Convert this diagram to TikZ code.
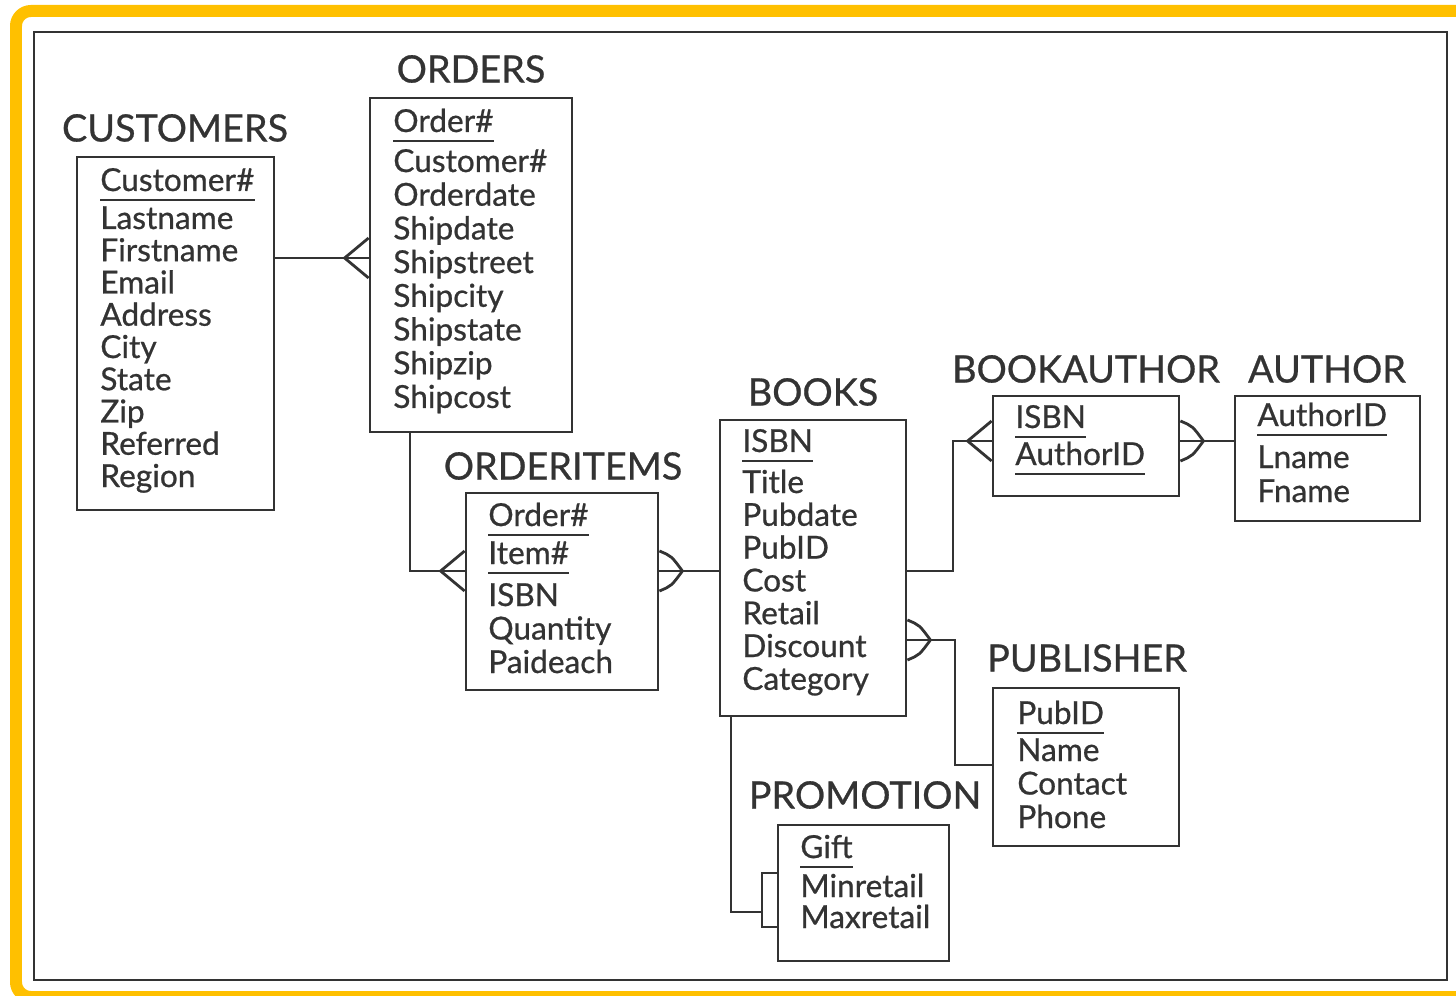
\documentclass[tikz,border=0pt]{standalone}
\usepackage{fontspec}
\setmainfont{Lato}
\newfontfamily\erfont{Lato}[FakeBold=0.7]
\usetikzlibrary{fit}
\definecolor{ink}{HTML}{333333}
\definecolor{gold}{HTML}{FFC000}

\tikzset{
  tbl/.style={draw=ink, line width=1.6pt, inner sep=0pt},
  attr/.style={inner sep=0pt, anchor=base west, text=ink, font=\erfont\fontsize{18}{20}\selectfont},
  ttl/.style={inner sep=0pt, text=ink, font=\erfont\fontsize{21.5}{24}\selectfont},
  link/.style={draw=ink, line width=1.6pt},
  uline/.style={draw=ink, line width=1.3pt},
  crow/.pic={\draw[link] (0,-20) -- (-24,0) -- (0,20);},
  crowc/.pic={\draw[link] (0,-20) .. controls (-12,-15) .. (-23,0) .. controls (-12,15) .. (0,20);}
}

\begin{document}
\begin{tikzpicture}[x=0.02cm, y=-0.02cm]
  \useasboundingbox (0,0) rectangle (1456,996);
  \clip (0,0) rectangle (1456,996);
  % outer frame
  \draw[gold, line width=0.24cm, rounded corners=0.3cm] (16,11) rectangle (1475,997);
  \draw[ink, line width=1.6pt] (34,32) rectangle (1447,980);

  % CUSTOMERS
  \node[ttl] (t-customers) at (175,128) {CUSTOMERS};
  \node[tbl, fit={(77,157) (274,510)}] (customers) {};
  \node[attr] (cu0) at (100,191) {Customer\#};
  \foreach \t [count=\i] in {Lastname,Firstname,Email,Address,City,State,Zip,Referred,Region}
    \node[attr] (cu\i) at (100,{229+32.25*(\i-1)}) {\t};

  % ORDERS
  \node[ttl] (t-orders) at (471,69) {ORDERS};
  \node[tbl, fit={(370,98) (572,432)}] (orders) {};
  \node[attr] (or0) at (393,132) {Order\#};
  \foreach \t [count=\i] in {Customer\#,Orderdate,Shipdate,Shipstreet,Shipcity,Shipstate,Shipzip,Shipcost}
    \node[attr] (or\i) at (393,{172+33.7*(\i-1)}) {\t};

  % ORDERITEMS
  \node[ttl] (t-orderitems) at (563,466) {ORDERITEMS};
  \node[tbl, fit={(466,493) (658,690)}] (orderitems) {};
  \node[attr] (oi0) at (488,526) {Order\#};
  \node[attr] (oi1) at (488,564) {Item\#};
  \foreach \t [count=\i from 2] in {ISBN,Quantity,Paideach}
    \node[attr] (oi\i) at (488,{606+33.5*(\i-2)}) {\t};

  % BOOKS
  \node[ttl] (t-books) at (813,392) {BOOKS};
  \node[tbl, fit={(720,420) (906,716)}] (books) {};
  \node[attr] (bk0) at (742,452) {ISBN};
  \foreach \t [count=\i] in {Title,Pubdate,PubID,Cost,Retail,Discount,Category}
    \node[attr] (bk\i) at (742,{493+32.8*(\i-1)}) {\t};

  % BOOKAUTHOR
  \node[ttl] (t-bookauthor) at (1086,369) {BOOKAUTHOR};
  \node[tbl, fit={(993,396) (1179,496)}] (bookauthor) {};
  \node[attr] (ba0) at (1015,428) {ISBN};
  \node[attr] (ba1) at (1015,465) {AuthorID};

  % AUTHOR
  \node[ttl] (t-author) at (1327,369) {AUTHOR};
  \node[tbl, fit={(1235,396) (1420,521)}] (author) {};
  \node[attr] (au0) at (1257,426) {AuthorID};
  \foreach \t [count=\i] in {Lname,Fname}
    \node[attr] (au\i) at (1257,{468+34*(\i-1)}) {\t};

  % PUBLISHER
  \node[ttl] (t-publisher) at (1087,658) {PUBLISHER};
  \node[tbl, fit={(993,688) (1179,846)}] (publisher) {};
  \node[attr] (pb0) at (1017,724) {PubID};
  \foreach \t [count=\i] in {Name,Contact,Phone}
    \node[attr] (pb\i) at (1017,{761+33.5*(\i-1)}) {\t};

  % PROMOTION
  \node[ttl] (t-promotion) at (865,795) {PROMOTION};
  \node[tbl, fit={(778,825) (949,961)}] (promotion) {};
  \node[attr] (pr0) at (800,858) {Gift};
  \foreach \t [count=\i] in {Minretail,Maxretail}
    \node[attr] (pr\i) at (800,{897+31*(\i-1)}) {\t};

  % keys
  \foreach \k in {cu0,or0,oi0,oi1,bk0,ba0,ba1,au0,pb0,pr0}
    \draw[uline] ([yshift=-5pt]\k.base west) -- ([yshift=-5pt]\k.base east);

  % relationships
  \coordinate (j0) at (0,258);
  \coordinate (j1) at (410,571);
  \coordinate (j3) at (953,571);
  \coordinate (j4) at (953,441);
  \coordinate (j5) at (955,640);
  \coordinate (j6) at (955,765);
  \coordinate (j7) at (731,912);
  \coordinate (j8) at (762,873);
  \coordinate (j9) at (762,927);

  \draw[link] (customers.east |- j0) -- (orders.west |- j0);
  \pic at (orders.west |- j0) {crow};

  \draw[link] (j1 |- orders.south) -- (j1) -- (orderitems.west |- j1);
  \pic at (orderitems.west |- j1) {crow};

  \draw[link] (orderitems.east |- j1) -- (books.west |- j1);
  \pic[rotate=180] at (orderitems.east |- j1) {crowc};

  \draw[link] (books.east |- j3) -- (j3) -- (j4) -- (bookauthor.west |- j4);
  \pic at (bookauthor.west |- j4) {crow};

  \draw[link] (bookauthor.east |- j4) -- (author.west |- j4);
  \pic[rotate=180] at (bookauthor.east |- j4) {crowc};

  \draw[link] (books.east |- j5) -- (j5) -- (j6) -- (publisher.west |- j6);
  \pic[rotate=180] at (books.east |- j5) {crowc};

  \draw[link] (j7 |- books.south) -- (j7) -- (j8 |- j7);
  \draw[link] (promotion.west |- j8) -- (j8) -- (j9) -- (promotion.west |- j9);
\end{tikzpicture}
\end{document}
